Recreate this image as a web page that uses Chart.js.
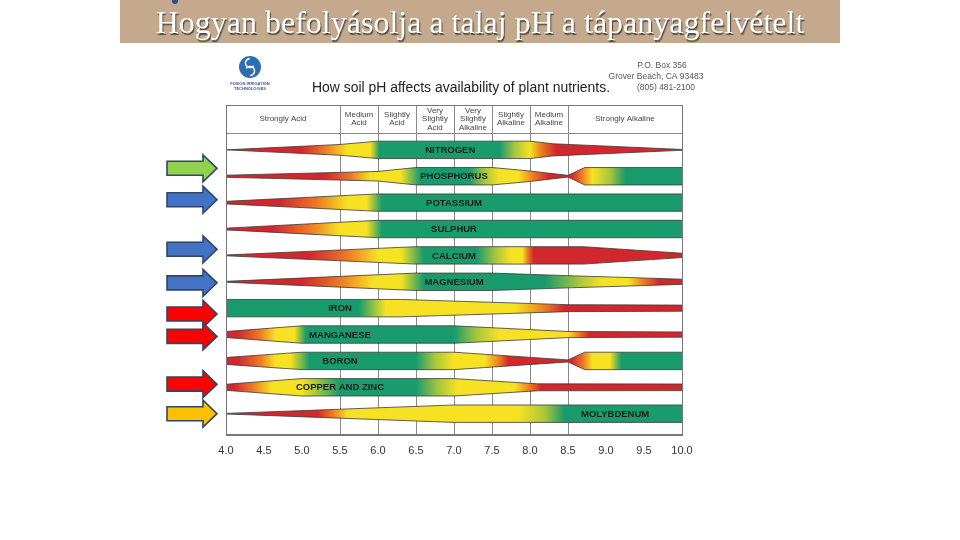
<!DOCTYPE html>
<html>
<head>
<meta charset="utf-8">
<script src="https://cdn.jsdelivr.net/npm/chart.js@4.4.1/dist/chart.umd.min.js"></script>
<style>
html, body { margin: 0; padding: 0; background: #fff; }
body { width: 960px; height: 540px; position: relative; overflow: hidden; }
#chart { position: absolute; left: 0; top: 0; }
#banner { position: absolute; left: 120px; top: 0; width: 720px; height: 43px; background: #c4a98c; }
#banner h1 { margin: 0; font: normal 32px "Liberation Serif", "Times New Roman", serif; color: #fff;
  text-align: center; line-height: 45px; text-shadow: 1px 2px 1px #4a4a4a; white-space: nowrap; }
#mark { position: absolute; left: 172px; top: 0; width: 6px; height: 4px; background: #2f4d8a; border-radius: 0 0 3px 3px; }
</style>
</head>
<body>
<canvas id="chart" width="960" height="540"></canvas>
<div id="banner"><h1>Hogyan befolyásolja a talaj pH a tápanyagfelvételt</h1></div>
<div id="mark"></div>
<script>
// nutrients, top to bottom
var nutrients = ['NITROGEN', 'PHOSPHORUS', 'POTASSIUM', 'SULPHUR', 'CALCIUM', 'MAGNESIUM',
  'IRON', 'MANGANESE', 'BORON', 'COPPER AND ZINC', 'MOLYBDENUM'];
var labelPH = [6.95, 7.0, 7.0, 7.0, 7.0, 7.0, 5.5, 5.5, 5.5, 5.5, 9.12];

// band thickness (0..1) at pH breakpoints
var nitrogenWidth   = [[4.0, 0], [5.5, 0.62], [6.0, 1], [8.0, 1], [8.3, 0.7], [10, 0.05]];
var phosphorusWidth = [[4.0, 0.12], [6.0, 0.55], [6.5, 1], [7.5, 1], [8.0, 0.6], [8.5, 0.1], [8.72, 1], [10, 1]];
var potassiumWidth  = [[4.0, 0.15], [6.0, 1], [10, 1]];
var sulphurWidth    = [[4.0, 0.1], [6.0, 1], [10, 1]];
var calciumWidth    = [[4.0, 0.05], [6.5, 1], [8.7, 1], [10, 0.25]];
var magnesiumWidth  = [[4.0, 0.05], [6.5, 1], [7.5, 1], [8.5, 0.7], [10, 0.3]];
var ironWidth       = [[4.0, 1], [6.3, 1], [8.5, 0.4], [10, 0.35]];
var manganeseWidth  = [[4.0, 0.35], [5.0, 1], [7.0, 1], [8.5, 0.35], [10, 0.3]];
var boronWidth      = [[4.0, 0.4], [5.0, 1], [7.0, 1], [8.5, 0.12], [8.72, 1], [10, 1]];
var copperWidth     = [[4.0, 0.35], [5.0, 1], [7.0, 1], [8.1, 0.4], [10, 0.38]];
var molybdenumWidth = [[4.0, 0.03], [7.0, 1], [10, 1]];

// availability colour along pH (R red, O orange, Y yellow, L yellow-green, G green)
var nitrogenColor   = [[4, 'R'], [5.0, 'R'], [5.3, 'O'], [5.6, 'Y'], [5.9, 'Y'], [6.02, 'G'], [7.6, 'G'], [7.8, 'L'], [8.0, 'Y'], [8.15, 'O'], [8.35, 'R'], [10, 'R']];
var phosphorusColor = [[4, 'R'], [5.3, 'R'], [5.65, 'O'], [5.9, 'Y'], [6.3, 'Y'], [6.55, 'G'], [7.2, 'G'], [7.4, 'L'], [7.6, 'Y'], [7.85, 'Y'], [8.05, 'O'], [8.25, 'R'], [8.55, 'R'], [8.68, 'O'], [8.82, 'Y'], [9.05, 'L'], [9.25, 'G'], [10, 'G']];
var potassiumColor  = [[4, 'R'], [4.7, 'R'], [5.2, 'O'], [5.6, 'Y'], [5.85, 'Y'], [6.05, 'G'], [10, 'G']];
var sulphurColor    = [[4, 'R'], [4.6, 'R'], [5.1, 'O'], [5.5, 'Y'], [5.85, 'Y'], [6.05, 'G'], [10, 'G']];
var calciumColor    = [[4, 'R'], [5.1, 'R'], [5.6, 'O'], [6.0, 'Y'], [6.3, 'Y'], [6.6, 'G'], [7.3, 'G'], [7.55, 'L'], [7.75, 'Y'], [7.9, 'Y'], [7.97, 'O'], [8.05, 'R'], [10, 'R']];
var magnesiumColor  = [[4, 'R'], [5.0, 'R'], [5.5, 'O'], [5.95, 'Y'], [6.3, 'Y'], [6.6, 'G'], [8.2, 'G'], [8.65, 'L'], [8.95, 'Y'], [9.3, 'Y'], [9.5, 'O'], [9.7, 'R'], [10, 'R']];
var ironColor       = [[4, 'G'], [5.75, 'G'], [6.1, 'Y'], [7.2, 'Y'], [7.8, 'Y'], [8.2, 'O'], [8.45, 'R'], [10, 'R']];
var manganeseColor  = [[4, 'R'], [4.15, 'R'], [4.45, 'O'], [4.65, 'Y'], [4.9, 'Y'], [5.05, 'G'], [7.0, 'G'], [7.3, 'L'], [7.6, 'Y'], [8.5, 'Y'], [8.65, 'O'], [8.78, 'R'], [10, 'R']];
var boronColor      = [[4, 'R'], [4.15, 'R'], [4.45, 'O'], [4.65, 'Y'], [4.85, 'Y'], [5.1, 'G'], [6.5, 'G'], [6.75, 'L'], [7.0, 'Y'], [7.4, 'Y'], [7.6, 'O'], [7.72, 'R'], [8.55, 'R'], [8.7, 'O'], [8.82, 'Y'], [9.05, 'Y'], [9.2, 'G'], [10, 'G']];
var copperColor     = [[4, 'R'], [4.1, 'R'], [4.35, 'O'], [4.6, 'Y'], [5.0, 'Y'], [5.5, 'G'], [6.5, 'G'], [6.8, 'L'], [7.05, 'Y'], [7.8, 'Y'], [8.0, 'O'], [8.15, 'R'], [10, 'R']];
var molybdenumColor = [[4, 'R'], [5.2, 'R'], [5.4, 'O'], [5.6, 'Y'], [7.85, 'Y'], [8.2, 'L'], [8.45, 'G'], [10, 'G']];

var widths = [nitrogenWidth, phosphorusWidth, potassiumWidth, sulphurWidth, calciumWidth, magnesiumWidth,
  ironWidth, manganeseWidth, boronWidth, copperWidth, molybdenumWidth];
var colors = [nitrogenColor, phosphorusColor, potassiumColor, sulphurColor, calciumColor, magnesiumColor,
  ironColor, manganeseColor, boronColor, copperColor, molybdenumColor];

// header zones
var zoneEdges = [4, 5.5, 6, 6.5, 7, 7.5, 8, 8.5, 10];
var zoneNames = [['Strongly Acid'], ['Medium', 'Acid'], ['Slightly', 'Acid'], ['Very', 'Slightly', 'Acid'],
  ['Very', 'Slightly', 'Alkaline'], ['Slightly', 'Alkaline'], ['Medium', 'Alkaline'], ['Strongly Alkaline']];

var xTicks = [4.0, 4.5, 5.0, 5.5, 6.0, 6.5, 7.0, 7.5, 8.0, 8.5, 9.0, 9.5, 10.0];

// arrows on the left (row position, fill)
var arrowRows = [0.7, 1.89, 3.77, 5.04, 6.22, 7.07, 8.88, 10.0];
var arrowColors = ['#92d050', '#4472c4', '#4472c4', '#4472c4', '#ff0000', '#ff0000', '#ff0000', '#ffc000'];

var PALETTE = { R: '#d2272d', O: '#ec7a24', Y: '#f6e222', L: '#a9c63c', G: '#1a9b6e' };
var HALF = 0.33;
var FONT = '"Liberation Sans", Arial, sans-serif';

function bandGradient(chart, stops) {
  var xs = chart.scales.x;
  if (!chart.chartArea || !xs) return PALETTE.Y;
  var g = chart.ctx.createLinearGradient(xs.getPixelForValue(4), 0, xs.getPixelForValue(10), 0);
  stops.forEach(function (s) { g.addColorStop((s[0] - 4) / 6, PALETTE[s[1]]); });
  return g;
}

var datasets = [];
nutrients.forEach(function (name, i) {
  datasets.push({
    label: name + ' top',
    data: widths[i].map(function (p) { return { x: p[0], y: i - p[1] * HALF }; }),
    borderColor: '#3a3a3a', borderWidth: 0.8, pointRadius: 0, fill: false
  });
  datasets.push({
    label: name,
    data: widths[i].map(function (p) { return { x: p[0], y: i + p[1] * HALF }; }),
    borderColor: '#3a3a3a', borderWidth: 0.8, pointRadius: 0, fill: '-1',
    backgroundColor: function (ctx) { return bandGradient(ctx.chart, colors[i]); }
  });
});

var decor = {
  id: 'decor',
  beforeDatasetsDraw: function (chart) {
    var ctx = chart.ctx, xs = chart.scales.x, ys = chart.scales.y, a = chart.chartArea;
    ctx.save();
    // header row
    var hb = ys.getPixelForValue(-0.64);
    ctx.strokeStyle = '#888';
    ctx.lineWidth = 1;
    ctx.beginPath();
    ctx.moveTo(a.left, Math.round(hb) + 0.5);
    ctx.lineTo(a.right, Math.round(hb) + 0.5);
    ctx.stroke();
    ctx.fillStyle = '#444';
    ctx.font = '8px ' + FONT;
    ctx.textAlign = 'center';
    ctx.textBaseline = 'middle';
    var hc = (a.top + hb) / 2;
    zoneNames.forEach(function (lines, k) {
      var cx = (xs.getPixelForValue(zoneEdges[k]) + xs.getPixelForValue(zoneEdges[k + 1])) / 2;
      lines.forEach(function (t, j) {
        ctx.fillText(t, cx, hc + (j - (lines.length - 1) / 2) * 8.6);
      });
    });
    ctx.restore();
  },
  afterDatasetsDraw: function (chart) {
    var ctx = chart.ctx, xs = chart.scales.x, ys = chart.scales.y, a = chart.chartArea;
    ctx.save();
    // nutrient names
    ctx.fillStyle = '#1c1c1c';
    ctx.font = 'bold 9.5px ' + FONT;
    ctx.textAlign = 'center';
    ctx.textBaseline = 'middle';
    nutrients.forEach(function (n, i) {
      ctx.fillText(n, xs.getPixelForValue(labelPH[i]), ys.getPixelForValue(i) + 0.5);
    });
    // frame
    ctx.strokeStyle = '#777';
    ctx.lineWidth = 1;
    ctx.strokeRect(Math.round(a.left) + 0.5, Math.round(a.top) + 0.5, Math.round(a.right - a.left), Math.round(a.bottom - a.top));
    ctx.restore();
  },
  afterDraw: function (chart) {
    var ctx = chart.ctx, ys = chart.scales.y;
    ctx.save();
    // arrows
    arrowRows.forEach(function (r, k) {
      var cy = ys.getPixelForValue(r);
      ctx.beginPath();
      ctx.moveTo(167, cy - 7);
      ctx.lineTo(203, cy - 7);
      ctx.lineTo(203, cy - 13.5);
      ctx.lineTo(217, cy);
      ctx.lineTo(203, cy + 13.5);
      ctx.lineTo(203, cy + 7);
      ctx.lineTo(167, cy + 7);
      ctx.closePath();
      ctx.fillStyle = arrowColors[k];
      ctx.fill();
      ctx.strokeStyle = '#2f4766';
      ctx.lineWidth = 1.6;
      ctx.stroke();
    });
    // title
    ctx.fillStyle = '#222';
    ctx.font = '14px ' + FONT;
    ctx.textAlign = 'left';
    ctx.textBaseline = 'alphabetic';
    ctx.fillText('How soil pH affects availability of plant nutrients.', 312, 92, 298);
    // address
    ctx.fillStyle = '#555';
    ctx.font = '8.5px ' + FONT;
    ctx.textAlign = 'center';
    ctx.fillText('P.O. Box 356', 662, 68);
    ctx.fillText('Grover Beach, CA 93483', 656, 79);
    ctx.fillText('(805) 481-2100', 666, 90);
    // logo
    ctx.beginPath();
    ctx.arc(250, 67, 11, 0, Math.PI * 2);
    ctx.fillStyle = '#2d6db3';
    ctx.fill();
    ctx.strokeStyle = '#fff';
    ctx.lineWidth = 1.6;
    ctx.beginPath();
    ctx.arc(250, 63, 4.5, Math.PI * 0.2, Math.PI * 1.5, false);
    ctx.stroke();
    ctx.beginPath();
    ctx.arc(250, 71, 4.5, Math.PI * 1.2, Math.PI * 0.5, false);
    ctx.stroke();
    ctx.fillStyle = '#3a5a8a';
    ctx.font = 'bold 4px ' + FONT;
    ctx.fillText('FUSION IRRIGATION', 250, 85);
    ctx.fillText('TECHNOLOGIES', 250, 90);
    ctx.restore();
  }
};

new Chart(document.getElementById('chart'), {
  type: 'line',
  data: { datasets: datasets },
  options: {
    responsive: false,
    animation: false,
    devicePixelRatio: 1,
    layout: { padding: { left: 226, right: 278, top: 105, bottom: 72 } },
    elements: { line: { tension: 0 } },
    plugins: { legend: { display: false }, tooltip: { enabled: false } },
    scales: {
      x: {
        type: 'linear', min: 4, max: 10,
        afterBuildTicks: function (s) { s.ticks = xTicks.map(function (v) { return { value: v }; }); },
        grid: {
          drawTicks: false,
          color: function (c) { return c.tick && c.tick.value > 5.4 && c.tick.value < 8.6 ? '#8a8a8a' : 'rgba(0,0,0,0)'; }
        },
        border: { display: true, color: '#777' },
        ticks: {
          autoSkip: false, maxRotation: 0, padding: 10, color: '#333',
          font: { family: FONT, size: 11 },
          callback: function (v) { return Number(v).toFixed(1); }
        }
      },
      y: { type: 'linear', reverse: true, min: -1.7, max: 10.8, display: false }
    }
  },
  plugins: [decor]
});
</script>
</body>
</html>
